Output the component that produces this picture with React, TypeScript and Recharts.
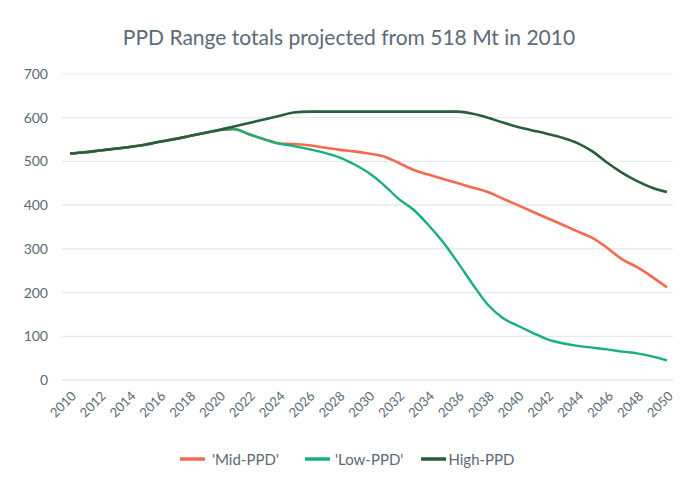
import React from "react";
import { LineChart, Line, XAxis, YAxis, CartesianGrid } from "recharts";

const years: number[] = [
  2010, 2011, 2012, 2013, 2014, 2015, 2016, 2017, 2018, 2019,
  2020, 2021, 2022, 2023, 2024, 2025, 2026, 2027, 2028, 2029,
  2030, 2031, 2032, 2033, 2034, 2035, 2036, 2037, 2038, 2039,
  2040, 2041, 2042, 2043, 2044, 2045, 2046, 2047, 2048, 2049, 2050,
];

const highPPD: number[] = [
  518, 521, 525, 529, 533, 538, 545, 551, 558, 565,
  572, 580, 588, 596, 604, 612, 614, 614, 614, 614,
  614, 614, 614, 614, 614, 614, 614, 609, 600, 589,
  579, 571, 563, 554, 542, 523, 497, 474, 455, 440, 430,
];

const lowPPD: number[] = [
  518, 521, 525, 529, 533, 538, 545, 551, 558, 565,
  572, 574, 562, 551, 541, 535, 528, 520, 510, 494,
  474, 447, 415, 390, 355, 315, 268, 218, 172, 142,
  124, 108, 93, 84, 78, 74, 70, 65, 61, 54, 45,
];

const midPPD: number[] = [
  518, 521, 525, 529, 533, 538, 545, 551, 558, 565,
  572, 574, 562, 551, 541, 540, 537, 532, 527, 523,
  518, 512, 497, 481, 470, 460, 450, 440, 430, 415,
  400, 385, 370, 355, 340, 325, 302, 276, 258, 236, 212,
];

const yTicks: number[] = [0, 100, 200, 300, 400, 500, 600, 700];
const xTicks: number[] = years.filter((y) => (y - 2010) % 2 === 0);

const seriesNames = ["'Mid-PPD'", "'Low-PPD'", "High-PPD"];
const seriesColors = ["#f46a4e", "#17b07a", "#2a5d3c"];

const data = years.map((y, i) => ({
  year: y,
  mid: midPPD[i],
  low: lowPPD[i],
  high: highPPD[i],
}));

const textColor = "#5b6a76";
const font = "Lato, 'Open Sans', sans-serif";

const XTick = (props: any) => {
  const { x, y, payload } = props;
  return (
    <g transform={`translate(${x + 4},${y + 6})`}>
      <text
        x={0}
        y={0}
        dy={4}
        textAnchor="end"
        transform="rotate(-45)"
        fill={textColor}
        fontSize={13}
        fontFamily={font}
      >
        {payload.value}
      </text>
    </g>
  );
};

const legendGaps = [26, 18, 0];
const swatchGaps = [7, 5, 2];

const CustomLegend = () => (
  <div
    style={{
      position: "absolute",
      top: 450,
      left: 180,
      display: "flex",
      alignItems: "center",
      fontFamily: font,
      fontSize: 15,
      color: textColor,
    }}
  >
    {seriesNames.map((n, i) => (
      <div key={n} style={{ display: "flex", alignItems: "center", marginRight: legendGaps[i] }}>
        <svg width={25} height={10} style={{ marginRight: swatchGaps[i] }}>
          <line x1={0} y1={5} x2={25} y2={5} stroke={seriesColors[i]} strokeWidth={3.5} />
        </svg>
        <span>{n}</span>
      </div>
    ))}
  </div>
);

export default function App() {
  return (
    <div style={{ position: "absolute", left: 0, top: 0, width: 698, height: 479, background: "#fff" }}>
      <div
        style={{
          position: "absolute",
          top: 24,
          left: 0,
          width: 698,
          textAlign: "center",
          fontFamily: font,
          fontSize: 21,
          color: textColor,
        }}
      >
        PPD Range totals projected from 518 Mt in 2010
      </div>
      <LineChart
        width={698}
        height={479}
        data={data}
        margin={{ top: 74, right: 25, bottom: 0, left: 0 }}
      >
        <CartesianGrid horizontal={true} vertical={false} stroke="#e3e9ef" strokeWidth={1.2} />
        <XAxis
          dataKey="year"
          ticks={xTicks}
          interval={0}
          tick={<XTick />}
          tickLine={false}
          axisLine={{ stroke: "#dfe5ea" }}
          padding={{ left: 8, right: 6 }}
          height={99}
        />
        <YAxis
          domain={[0, 700]}
          ticks={yTicks}
          width={62}
          tickLine={false}
          axisLine={false}
          tick={{ fill: textColor, fontSize: 14, fontFamily: font }}
          tickMargin={8}
        />
        <Line
          dataKey="mid"
          name={seriesNames[0]}
          type="monotone"
          stroke={seriesColors[0]}
          strokeWidth={2.6}
          dot={false}
          isAnimationActive={false}
        />
        <Line
          dataKey="low"
          name={seriesNames[1]}
          type="monotone"
          stroke={seriesColors[1]}
          strokeWidth={2.4}
          dot={false}
          isAnimationActive={false}
        />
        <Line
          dataKey="high"
          name={seriesNames[2]}
          type="monotone"
          stroke={seriesColors[2]}
          strokeWidth={2.6}
          dot={false}
          isAnimationActive={false}
        />
      </LineChart>
      <CustomLegend />
    </div>
  );
}
